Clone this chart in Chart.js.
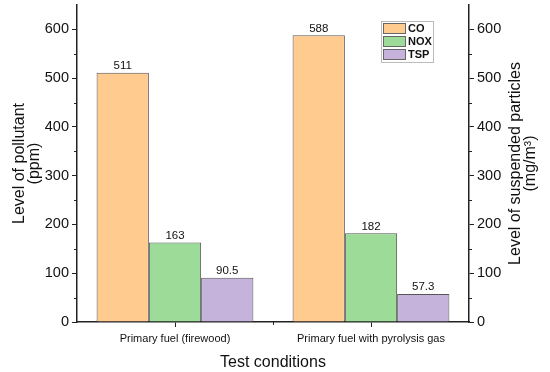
<!DOCTYPE html>
<html>
<head>
<meta charset="utf-8">
<script src="https://cdn.jsdelivr.net/npm/chart.js@4"></script>
<style>
  html, body { margin: 0; padding: 0; background: #fff; }
  #wrap { width: 550px; height: 372px; }
</style>
</head>
<body>
<div id="wrap"><canvas id="myChart" width="550" height="372"></canvas></div>
<script>
const conditions = ["Primary fuel (firewood)", "Primary fuel with pyrolysis gas"];
const coValues = [511, 588];
const noxValues = [163, 182];
const tspValues = [90.5, 57.3];
const seriesNames = ["CO", "NOX", "TSP"];
const yTicks = [0, 100, 200, 300, 400, 500, 600];

const fontFam = "Arial, 'Liberation Sans', sans-serif";

// value labels over each bar
const barLabels = {
  id: "barLabels",
  afterDatasetsDraw(chart) {
    const c = chart.ctx;
    c.save();
    c.font = "11.5px " + fontFam;
    c.fillStyle = "#111";
    c.textAlign = "center";
    c.textBaseline = "bottom";
    chart.data.datasets.forEach((ds, i) => {
      chart.getDatasetMeta(i).data.forEach((bar, j) => {
        c.fillText(String(ds.data[j]), bar.x, bar.y - 1);
      });
    });
    c.restore();
  }
};

// minor ticks, legend box and the right-hand title
const extras = {
  id: "extras",
  afterDraw(chart) {
    const c = chart.ctx;
    const yl = chart.scales.y;
    const yr = chart.scales.y2;
    const x = chart.scales.x;
    c.save();
    c.strokeStyle = "#222";
    c.lineWidth = 1;
    c.beginPath();
    for (let v = 50; v < 650; v += 100) {
      const py = Math.round(yl.getPixelForValue(v)) + 0.5;
      c.moveTo(yl.right - 3, py); c.lineTo(yl.right, py);
      const pr = Math.round(yr.getPixelForValue(v)) + 0.5;
      c.moveTo(yr.left, pr); c.lineTo(yr.left + 3, pr);
    }
    const mid = Math.round((x.getPixelForValue(0) + x.getPixelForValue(1)) / 2) + 0.5;
    c.moveTo(mid, x.top); c.lineTo(mid, x.top + 3);
    c.stroke();

    // legend
    const lx = 381, ly = 21, lw = 52, lh = 41;
    c.fillStyle = "#fff";
    c.fillRect(lx, ly, lw, lh);
    c.strokeStyle = "#bbb";
    c.strokeRect(lx + 0.5, ly + 0.5, lw, lh);
    c.font = "bold 11px " + fontFam;
    c.textBaseline = "middle";
    c.textAlign = "left";
    chart.data.datasets.forEach((ds, i) => {
      const sy = ly + 2 + i * 13;
      c.fillStyle = ds.backgroundColor;
      c.fillRect(lx + 2, sy, 22, 10);
      c.strokeStyle = "#666";
      c.strokeRect(lx + 2.5, sy + 0.5, 22, 10);
      c.fillStyle = "#111";
      c.fillText(seriesNames[i], lx + 27, sy + 6);
    });

    // right axis title, reading bottom to top
    c.save();
    c.translate(516, (yr.top + yr.bottom) / 2);
    c.rotate(-Math.PI / 2);
    c.fillStyle = "#111";
    c.font = "16px " + fontFam;
    c.textAlign = "center";
    c.textBaseline = "middle";
    c.fillText("Level of suspended particles", 0, 0);
    c.fillText("(mg/m\u00B3)", 0, 15);
    c.restore();
    c.restore();
  }
};

const keepHundreds = (scale) => {
  scale.ticks = scale.ticks.filter((t) => yTicks.includes(t.value));
};

const data = {
  labels: conditions,
  datasets: [
    { label: seriesNames[0], data: coValues, backgroundColor: "#FFCB8F", borderColor: "#555", borderWidth: 1, yAxisID: "y" },
    { label: seriesNames[1], data: noxValues, backgroundColor: "#9DDB98", borderColor: "#555", borderWidth: 1, yAxisID: "y" },
    { label: seriesNames[2], data: tspValues, backgroundColor: "#C5B3DC", borderColor: "#555", borderWidth: 1, yAxisID: "y2" },
  ],
};

const config = {
  type: "bar",
  data,
  options: {
    responsive: false,
    animation: false,
    layout: { padding: { top: 5 } },
    categoryPercentage: 0.8,
    barPercentage: 1.0,
    plugins: { legend: { display: false }, tooltip: { enabled: false } },
    scales: {
      x: {
        grid: { display: true, drawOnChartArea: false, offset: false, tickLength: 5, color: "#222" },
        border: { display: true, color: "#222", width: 1.5 },
        ticks: { color: "#111", font: { size: 11, family: fontFam }, padding: 5, maxRotation: 0 },
        title: { display: true, text: "Test conditions", color: "#111", font: { size: 16, family: fontFam }, padding: { top: 4, bottom: 0 } },
        afterFit(s) { s.height = 50; s.paddingLeft = 0; s.paddingRight = 0; },
      },
      y: {
        position: "left",
        min: 0, max: 650,
        afterBuildTicks: keepHundreds,
        grid: { display: true, drawOnChartArea: false, tickLength: 5, color: "#222" },
        border: { display: true, color: "#222", width: 1.5 },
        ticks: { stepSize: 100, color: "#111", font: { size: 14.5, family: fontFam }, padding: 3 },
        title: { display: true, text: ["Level of pollutant", "(ppm)"], color: "#111", font: { size: 16, family: fontFam, lineHeight: 0.95 }, padding: { top: 12, bottom: 0 } },
        afterFit(s) { s.width = 77; s.paddingTop = 0; s.paddingBottom = 0; },
      },
      y2: {
        position: "right",
        min: 0, max: 650,
        afterBuildTicks: keepHundreds,
        grid: { display: true, drawOnChartArea: false, tickLength: 5, color: "#222" },
        border: { display: true, color: "#222", width: 1.5 },
        ticks: { stepSize: 100, color: "#111", font: { size: 14.5, family: fontFam }, padding: 3 },
        afterFit(s) { s.width = 81; s.paddingTop = 0; s.paddingBottom = 0; },
      },
    },
  },
  plugins: [barLabels, extras],
};

let myChart = new Chart(document.querySelector("#myChart"), config);
</script>
</body>
</html>
